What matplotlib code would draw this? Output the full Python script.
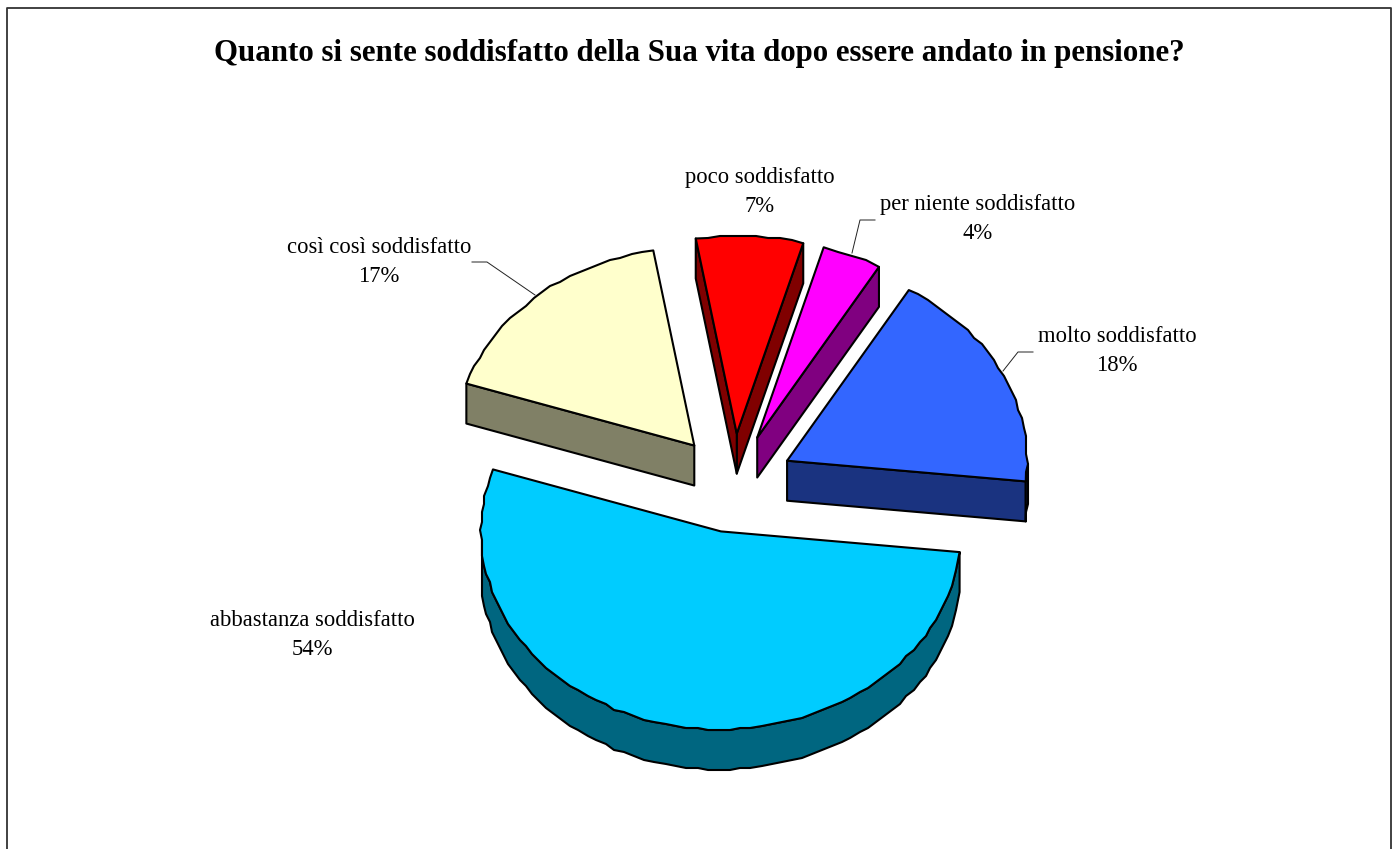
import numpy as np
import matplotlib
matplotlib.use("Agg")
import matplotlib.pyplot as plt
from matplotlib.patches import Polygon

# Values, the labels show the rounded ones
categories = ["molto soddisfatto", "per niente soddisfatto", "poco soddisfatto",
              "così così soddisfatto", "abbastanza soddisfatto"]
shares = [18.2, 4.0, 7.2, 17.2, 53.4]
share_labels = ["18%", "4%", "7%", "17%", "54%"]
title = "Quanto si sente soddisfatto della Sua vita dopo essere andato in pensione?"

top_colors = ["#3366FF", "#FF00FF", "#FF0000", "#FFFFCC", "#00CCFF"]
side_colors = ["#1A3380", "#800080", "#800000", "#808066", "#006680"]

# Pie geometry, in picture pixels
cx, cy = 733.5, 483
rx, ry = 240, 198
depth = 40
explode = 0.25
start_angle = -6
snap = 2  # the original arcs are stair-stepped

label_pos = [(1117, 351), (978, 219), (760, 192), (379, 262), (312, 635)]
leaders = {
    0: [(1033, 352), (1018, 352), (1003, 371)],
    1: [(875, 220), (860, 220), (852, 253)],
    3: [(472, 262), (487, 262), (535, 295)],
}

plt.rcParams["font.family"] = ["Liberation Serif", "DejaVu Serif"]
fig = plt.figure(figsize=(13.96, 8.49), dpi=100)
ax = fig.add_axes([0, 0, 1, 1])
ax.set_xlim(0, 1396)
ax.set_ylim(849, 0)
ax.axis("off")

# Chart frame, the bottom edge falls outside the picture
ax.plot([7, 7, 1391, 1391], [849, 8, 8, 849], color="#333333", lw=1.3)


def draw_slice(i, a0, a1):
    mid = np.radians((a0 + a1) / 2)
    x0 = cx + explode * rx * np.cos(mid)
    y0 = cy - explode * ry * np.sin(mid)
    deg = np.linspace(a0, a1, max(int((a1 - a0) / 2.5), 4))
    t = np.radians(deg)
    rim = np.column_stack([x0 + rx * np.cos(t), y0 - ry * np.sin(t)])
    rim[1:-1] = np.round(rim[1:-1] / snap) * snap
    apex = np.array([x0, y0])
    down = np.array([0, depth])
    edge = dict(facecolor=side_colors[i], edgecolor="black", lw=1.5, joinstyle="round")

    # only the walls facing the viewer
    if np.cos(np.radians(a0)) > 0:
        ax.add_patch(Polygon([apex, rim[0], rim[0] + down, apex + down], **edge))
    if np.cos(np.radians(a1)) < 0:
        ax.add_patch(Polygon([apex, rim[-1], rim[-1] + down, apex + down], **edge))
    front = np.sin(t) <= 0
    if front.sum() > 1:
        arc = rim[front]
        ax.add_patch(Polygon(np.vstack([arc, (arc + down)[::-1]]), **edge))
    ax.add_patch(Polygon(np.vstack([apex, rim]), facecolor=top_colors[i],
                         edgecolor="black", lw=1.5, joinstyle="round"))


angles = start_angle + np.cumsum([0] + shares) / sum(shares) * 360
for i in [3, 2, 1, 0, 4]:
    draw_slice(i, angles[i], angles[i + 1])

for i, pts in leaders.items():
    xs, ys = zip(*pts)
    ax.plot(xs, ys, color="#222222", lw=0.7)

for name, pct, (x, y) in zip(categories, share_labels, label_pos):
    ax.text(x, y, name + "\n" + pct, ha="center", va="center", fontsize=16.3,
            linespacing=1.56, color="black")

ax.text(699, 53, title, ha="center", va="center", fontsize=22.2, fontweight="bold")

fig.savefig("out.png", dpi=100, facecolor="white")
